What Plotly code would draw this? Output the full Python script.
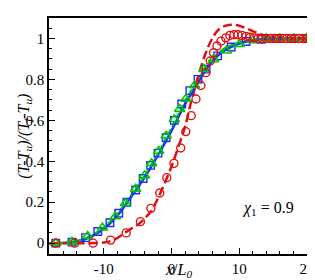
import plotly.graph_objects as go

# Lines
line_x = [-18, -16, -14, -12, -10, -8, -6, -4, -2, 0, 2, 4, 5, 6, 7, 8, 9, 10, 11, 12, 13, 14, 16, 18, 20]
blue_line_y = [0, 0.001, 0.008, 0.03, 0.07, 0.135, 0.225, 0.32, 0.43, 0.55, 0.68, 0.79, 0.845, 0.888, 0.922,
               0.945, 0.962, 0.975, 0.985, 0.992, 0.996, 0.999, 1, 1, 1]
green_line_y = [0, 0.002, 0.01, 0.035, 0.078, 0.145, 0.235, 0.33, 0.44, 0.565, 0.695, 0.805, 0.86, 0.9, 0.932,
                0.955, 0.97, 0.981, 0.99, 0.995, 0.998, 1, 1, 1, 1]

red_line_x = [-18, -16, -14, -12, -10, -9, -8, -7, -6, -5, -4, -3, -2, -1, 0, 1, 2, 3, 4, 5, 6, 7, 8, 9, 10,
              11, 12, 13, 14, 15, 16, 18, 20]
red_line_y = [0, 0, 0, 0, 0.003, 0.01, 0.025, 0.048, 0.07, 0.09, 0.12, 0.157, 0.22, 0.295, 0.375, 0.47, 0.57,
              0.705, 0.823, 0.925, 1.0, 1.045, 1.063, 1.067, 1.062, 1.05, 1.036, 1.022, 1.012, 1.005, 1.001, 1, 1]

# Markers
sq_x = [-17.1, -14.7, -12.7, -10.9, -9.1, -7.8, -6.6, -5.3, -4.2, -3.1, -2.0, -0.8, 0.4, 1.5, 2.7, 3.9, 5.1,
        6.8, 8.8, 11.0, 13.2, 15.5, 17.7, 19.9]
sq_y = [0, 0.005, 0.027, 0.057, 0.1, 0.146, 0.2, 0.26, 0.316, 0.38, 0.44, 0.515, 0.6, 0.68, 0.745, 0.80, 0.85,
        0.915, 0.958, 0.985, 0.996, 1, 1, 1]

tri_x = [-17.1, -14.7, -12.4, -10.2, -8.3, -6.8, -5.3, -4.0, -2.95, -1.9, -0.8, 0.4, 1.2, 2.1, 3.4, 4.8, 6.2,
         8.1, 10.0, 12.0, 14.0, 16.0, 18.0, 19.9]
tri_y = [0, 0.006, 0.035, 0.075, 0.13, 0.195, 0.265, 0.33, 0.39, 0.45, 0.525, 0.605, 0.655, 0.704, 0.77, 0.85,
         0.898, 0.94, 0.972, 0.99, 1.0, 1.0, 1.0, 1.0]

circ_x = [-17.1, -14.3, -11.6, -9.0, -6.7, -4.6, -3.05, -1.75, -0.7, 0.35, 1.35, 2.1, 2.9, 3.6, 4.33, 5.05, 5.7,
          6.2, 6.7, 7.3, 8.0, 8.6, 9.2, 9.8, 10.4, 11.0, 11.6, 12.2, 12.8, 13.4, 14.0, 14.6, 15.2, 15.8, 16.4,
          17.0, 17.6, 18.2, 18.8, 19.4, 20.0]
circ_y = [0, 0, 0, 0.015, 0.05, 0.105, 0.17, 0.245, 0.32, 0.39, 0.465, 0.545, 0.623, 0.704, 0.77, 0.833, 0.89,
          0.93, 0.963, 0.987, 1.003, 1.015, 1.018, 1.018, 1.015, 1.01, 1.006, 1.003, 1.001, 1.0, 1, 1, 1, 1, 1,
          1, 1, 1, 1, 1, 1]

x_ticks = [-10, 0, 10, 20]
y_ticks = [0, 0.2, 0.4, 0.6, 0.8, 1]
y_tick_text = ["0", "0.2", "0.4", "0.6", "0.8", "1"]

BLUE = "#1a2cff"
GREEN = "#00c800"
RED = "#e01010"
SERIF = "Liberation Serif, Times New Roman, DejaVu Serif, serif"

fig = go.Figure()
fig.add_trace(go.Scatter(x=line_x, y=blue_line_y, mode="lines", line=dict(color=BLUE, width=2.5, shape="spline")))
fig.add_trace(go.Scatter(x=line_x, y=green_line_y, mode="lines",
                         line=dict(color=GREEN, width=2, dash="6px,3px", shape="spline")))
fig.add_trace(go.Scatter(x=red_line_x, y=red_line_y, mode="lines",
                         line=dict(color=RED, width=2.5, dash="9px,4px", shape="spline")))
fig.add_trace(go.Scatter(x=sq_x, y=sq_y, mode="markers",
                         marker=dict(symbol="square-open", size=7.5, color=BLUE, line=dict(width=1.4))))
fig.add_trace(go.Scatter(x=tri_x, y=tri_y, mode="markers",
                         marker=dict(symbol="triangle-up-open", size=9, color=GREEN, line=dict(width=1.6))))
fig.add_trace(go.Scatter(x=circ_x, y=circ_y, mode="markers",
                         marker=dict(symbol="circle-open", size=8, color=RED, line=dict(width=1.4))))

axis_common = dict(showline=True, linecolor="black", linewidth=1.5, mirror=True, showgrid=False,
                   zeroline=False, ticks="inside", ticklen=6, tickcolor="black", tickwidth=1,
                   tickfont=dict(family=SERIF, size=15, color="black"))

fig.update_xaxes(range=[-18.1, 20], tickvals=x_ticks, ticktext=[str(v) for v in x_ticks],
                 minor=dict(dtick=2, ticks="inside", ticklen=3, tickcolor="black"), **axis_common)
fig.update_yaxes(range=[-0.053, 1.1], tickvals=y_ticks, ticktext=y_tick_text,
                 minor=dict(dtick=0.05, ticks="inside", ticklen=3, tickcolor="black"), **axis_common)

fig.update_layout(
    width=315, height=280,
    margin=dict(l=41, r=8, t=8, b=34),
    paper_bgcolor="white", plot_bgcolor="white",
    showlegend=False,
    font=dict(family=SERIF, color="black"),
    annotations=[
        dict(text="<i>x</i>/<i>L</i><sub><i>0</i></sub>", xref="paper", yref="paper", x=0.5, y=-0.07,
             xanchor="center", yanchor="middle", showarrow=False,
             font=dict(family=SERIF, size=16, color="black")),
        dict(text="<i>(T-T<sub>u</sub>)/(T<sub>f</sub>-T<sub>u</sub>)</i>", xref="paper", yref="paper",
             x=-0.098, y=0.5, xanchor="center", yanchor="middle", textangle=-90, showarrow=False,
             font=dict(family=SERIF, size=16, color="black")),
        dict(text="<i>χ</i><sub>1</sub> = 0.9", xref="x", yref="y", x=14.3, y=0.17,
             xanchor="center", yanchor="middle", showarrow=False,
             font=dict(family=SERIF, size=16, color="black")),
    ],
)

fig.write_html("out.html")
